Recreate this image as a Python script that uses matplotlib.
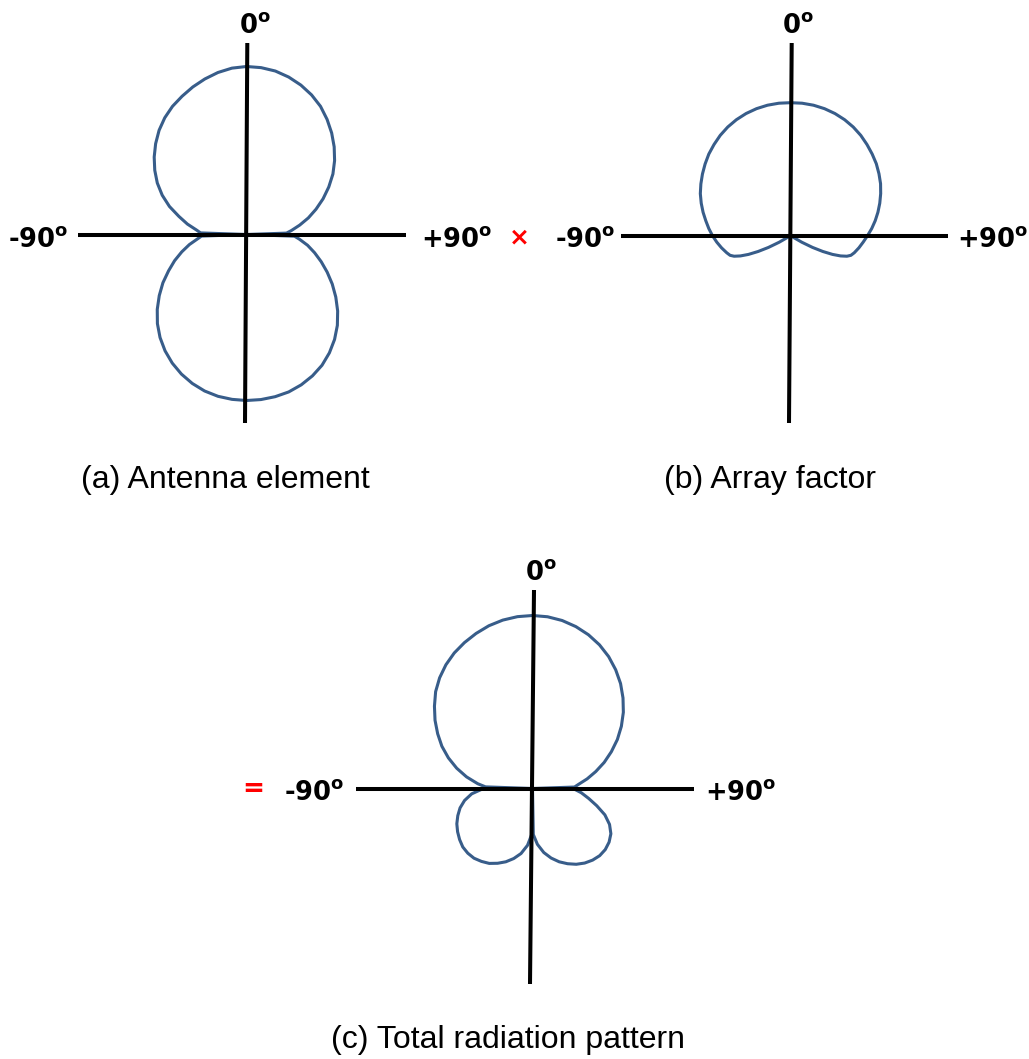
import numpy as np
import matplotlib
matplotlib.use("Agg")
import matplotlib.pyplot as plt

plt.rcParams['mathtext.fontset'] = 'dejavusans'

W, H = 1029, 1059
LINE_BLUE = '#385D8A'

# antenna element pattern: angle from boresight (deg, clockwise) -> radius
elem_theta = [-90, -88, -85, -80, -75, -70, -65, -60, -55, -50, -45, -40, -35, -30,
              -25, -20, -15, -10, -5, 0, 5, 10, 15, 20, 25, 30, 35, 40, 45, 50, 55,
              60, 65, 70, 75, 80, 85, 88, 90,
              92, 95, 100, 105, 110, 115, 120, 125, 130, 135, 140, 145, 150, 155,
              160, 165, 170, 175, 180, 185, 190, 195, 200, 205, 210, 215, 220, 225,
              230, 235, 240, 245, 250, 255, 260, 265, 268, 270]
elem_r = [0, 46, 50, 60, 70, 82, 93, 103, 112, 120.5, 128.5, 136, 142.5, 148,
          152.5, 157, 161, 164.5, 167, 168, 167.5, 166, 163, 159, 154, 148, 140.5, 132.5,
          124, 115, 105.5, 95, 84.5, 74, 64, 54, 45, 40, 0,
          48, 53, 62, 70.5, 79.5, 89, 99, 109, 119, 128.5, 137, 144.5, 151, 156,
          160, 163, 164.7, 165.7, 166, 165.5, 164.3, 162, 158.5, 154, 148.5, 142, 134.5,
          126, 116.5, 106.5, 96.5, 86, 76.5, 67, 58, 49, 45, 0]

# array factor
af_theta = [-122, -120, -118, -116, -114, -112, -110, -108, -105, -100, -95, -90, -85,
            -80, -75, -70, -65, -60, -55, -50, -45, -40, -35, -30, -25, -20, -15, -10,
            -5, 0, 5, 10, 15, 20, 25, 30, 35, 40, 45, 50, 55, 60, 65, 70, 75, 80, 85,
            90, 95, 100, 105, 108, 110, 112, 114, 116, 118, 120, 122]
af_r = [0, 13, 25, 36, 46, 54, 60, 63.5, 66, 70, 74, 78, 82,
        86, 90.5, 95, 99.5, 103.5, 107.5, 111.5, 115.5, 119, 122.5, 125.5, 128, 130, 131.5,
        132.5, 133, 133, 133, 132.5, 131.5, 130, 128, 125.5, 122.5, 119, 115.5, 112, 108,
        104, 99.5, 95, 90.5, 86, 81.5, 77, 73, 69.5, 66, 63.5, 60, 54, 46, 36, 25, 13, 0]

# total pattern = element x array factor
tot_theta = [-90, -88, -85, -80, -75, -70, -65, -60, -55, -50, -45, -40, -35, -30,
             -25, -20, -15, -10, -5, 0, 5, 10, 15, 20, 25, 30, 35, 40, 45, 50, 55,
             60, 65, 70, 75, 80, 85, 88, 90,
             91, 95, 100, 105, 110, 115, 120, 125, 130, 135, 140, 145, 150, 155,
             160, 165, 170, 175, 179, 180,
             181, 185, 190, 195, 200, 205, 210, 215, 220, 225, 230, 235, 240, 245,
             250, 255, 260, 265, 269, 270]
tot_r = [0, 47, 55, 67, 78.5, 89.5, 100, 109.5, 119, 128, 137, 144.5, 151, 156.5,
         161, 165, 168.5, 171, 172.5, 173, 172.4, 170.6, 167.6, 163.6, 158.5, 152.3, 145,
         137, 128, 118.6, 108.5, 98, 87, 76.3, 65.5, 55.5, 46, 42, 0,
         42, 49, 57, 66.5, 77, 85, 90.5, 93.5, 95, 95, 93.5, 91, 87.5, 83,
         78, 72, 65, 56, 46, 0,
         46, 57, 66, 72.5, 78, 82.5, 86.5, 89, 91, 91.5, 91, 89, 86.5, 83.5,
         79.5, 75, 69, 61, 51, 0]

fig = plt.figure(figsize=(W / 100, H / 100), dpi=100)
fig.patch.set_facecolor('white')


def pattern_axes(cx, cy, half=200):
    ax = fig.add_axes([(cx - half) / W, (H - cy - half) / H, 2 * half / W, 2 * half / H],
                      projection='polar', zorder=1)
    ax.set_theta_zero_location('N')
    ax.set_theta_direction(-1)
    ax.set_ylim(0, half)
    ax.axis('off')
    return ax


for (cx, cy), th, r in [((246.5, 234.5), elem_theta, elem_r),
                        ((790.5, 235.7), af_theta, af_r),
                        ((532.5, 788.5), tot_theta, tot_r)]:
    pax = pattern_axes(cx, cy)
    pax.plot(np.deg2rad(th), r, color=LINE_BLUE, lw=2.2,
             solid_joinstyle='round', solid_capstyle='round')

# overlay in pixel coordinates for the axis crosses and labels
ax = fig.add_axes([0, 0, 1, 1], zorder=2)
ax.set_xlim(0, W)
ax.set_ylim(H, 0)
ax.axis('off')

crosses = [
    [(78, 235), (406, 235), (247.3, 43), (245, 423)],
    [(620.7, 235.5), (948, 235.5), (791.7, 43), (789, 423)],
    [(356, 788.5), (694, 788.5), (534, 590), (530, 984)],
]
for h0, h1, v0, v1 in crosses:
    ax.plot([h0[0], h1[0]], [h0[1], h1[1]], color='black', lw=2.9, solid_capstyle='butt')
    ax.plot([v0[0], v1[0]], [v0[1], v1[1]], color='black', lw=2.9, solid_capstyle='butt')

lab = dict(fontsize=18.5, fontweight='bold', color='black', va='baseline')
deg = '$^{\\mathbf{o}}$'
ax.text(255, 33, '0' + deg, ha='center', **lab)
ax.text(8, 247, '-90' + deg, ha='left', **lab)
ax.text(421, 247, '+90' + deg, ha='left', **lab)
ax.text(798, 33, '0' + deg, ha='center', **lab)
ax.text(555, 247, '-90' + deg, ha='left', **lab)
ax.text(957, 247, '+90' + deg, ha='left', **lab)
ax.text(541, 580, '0' + deg, ha='center', **lab)
ax.text(284, 800.5, '-90' + deg, ha='left', **lab)
ax.text(705, 800.5, '+90' + deg, ha='left', **lab)

ax.text(519, 237, '×', color='red', fontsize=18, fontweight='bold', ha='center', va='center')
ax.text(253, 789, '=', color='red', fontsize=19, fontweight='bold', ha='center', va='center')

cap = dict(fontsize=23, family='Liberation Sans', color='black', ha='center', va='center')
ax.text(225, 480, '(a) Antenna element', **cap)
ax.text(770, 480, '(b) Array factor', **cap)
ax.text(508, 1040, '(c) Total radiation pattern', **cap)

fig.savefig('out.png', dpi=100, facecolor='white')
